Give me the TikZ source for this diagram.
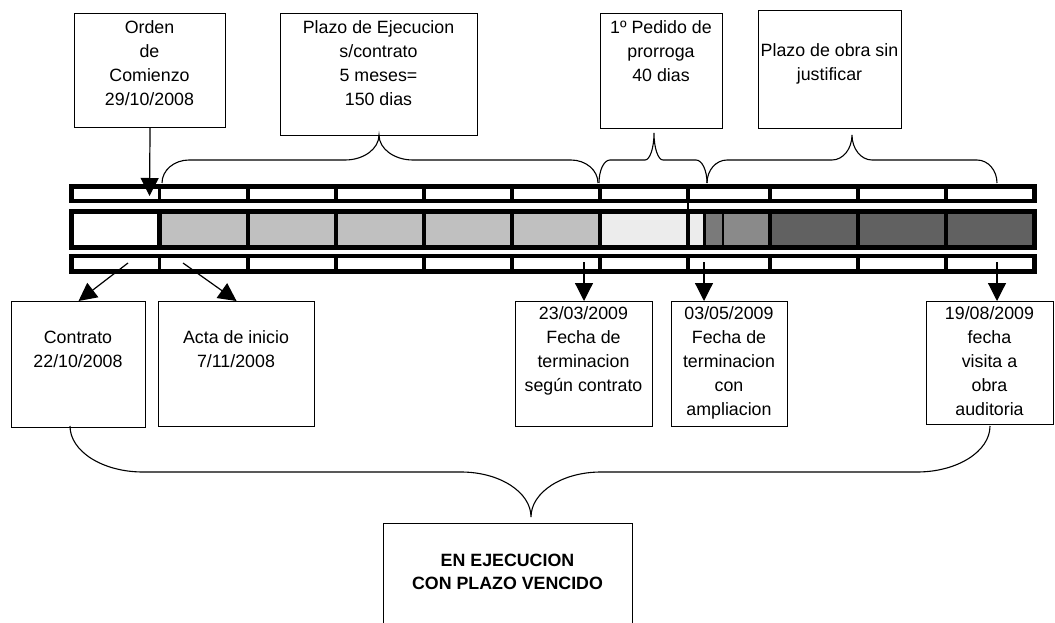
\documentclass[tikz,border=0pt]{standalone}
\usepackage{fontspec}
\setmainfont{Liberation Sans}
\usetikzlibrary{arrows.meta}
\definecolor{cellA}{HTML}{C0C0C0}
\definecolor{cellB}{HTML}{ECECEC}
\definecolor{cellC}{HTML}{7A7A7A}
\definecolor{cellD}{HTML}{8A8A8A}
\definecolor{cellE}{HTML}{616161}
% #1 x1, #2 x2, #3 xp, #4 yb, #5 ym, #6 yt, #7 corner r, #8 peak r2
\newcommand\mybrace[8]{%
  \draw[bracestyle] (#1,#4)
    .. controls (#1,{#4+0.552*(#5-#4)}) and ({#1+0.448*#7},#5) .. ({#1+#7},#5)
    -- ({#3-#8},#5)
    .. controls ({#3-0.448*#8},#5) and (#3,{#6+0.552*(#5-#6)}) .. (#3,#6)
    .. controls (#3,{#6+0.552*(#5-#6)}) and ({#3+0.448*#8},#5) .. ({#3+#8},#5)
    -- ({#2-#7},#5)
    .. controls ({#2-0.448*#7},#5) and (#2,{#4+0.552*(#5-#4)}) .. (#2,#4);}
\begin{document}
\begin{tikzpicture}[x=1pt,y=1pt,
  box/.style={draw, line width=1.1pt, inner sep=0pt, anchor=north west},
  lbl/.style={font=\fontsize{17.8}{24}\selectfont, align=center, inner sep=0pt, anchor=north},
  boldlbl/.style={lbl, font=\fontsize{17.8}{23}\selectfont\bfseries},
  arr/.style={line width=1.2pt, -{Triangle[length=18pt,width=18pt]}},
  bracestyle/.style={line width=1.1pt},
  bar/.style={line width=4.5pt},
  div/.style={line width=3.5pt},
  mdiv/.style={line width=4.5pt}]
\useasboundingbox (0,0) rectangle (1055,-623);

% ---------- top boxes ----------
\node[box, minimum width=151pt, minimum height=114pt] (orden) at (74,-13) {};
\node[lbl] (ordenT) at (149.5,-20.5) {Orden\\de\\Comienzo\\29/10/2008};
\node[box, minimum width=197pt, minimum height=122pt] (plazo) at (280,-13) {};
\node[lbl] (plazoT) at (378.5,-20.5) {Plazo de Ejecucion\\s/contrato\\5 meses=\\150 dias};
\node[box, minimum width=122pt, minimum height=115pt] (pedido) at (600,-13) {};
\node[lbl] (pedidoT) at (661,-20.5) {1º Pedido de\\prorroga\\40 dias};
\node[box, minimum width=143pt, minimum height=118pt] (obra) at (758,-10) {};
\node[lbl] (obraT) at (829.5,-43.5) {Plazo de obra sin\\justificar};

% ---------- timeline: middle row ----------
\fill[cellA] (159,-211) rectangle (600,-247.5);
\fill[cellB] (600,-211) rectangle (704,-247.5);
\fill[cellC] (704,-211) rectangle (722,-247.5);
\fill[cellD] (722,-211) rectangle (770,-247.5);
\fill[cellE] (770,-211) rectangle (1034.5,-247.5);
\draw[bar] (71.5,-211.3) rectangle (1034.5,-247.5);
\foreach \x in {159.5,248,336,424,512,600,688,770,858,946}
  \draw[mdiv] (\x,-211) -- (\x,-247.5);
\draw[line width=2.5pt] (704.5,-211) -- (704.5,-247.5);
\draw[line width=2pt] (723,-211) -- (723,-247.5);

% ---------- timeline: top row ----------
\draw[bar] (71.5,-186.5) rectangle (1034.5,-201);
\foreach \x in {159.5,248,336,424,512,600,688,770,858,946}
  \draw[div] (\x,-186.5) -- (\x,-201);
\draw[line width=2.5pt] (688,-201) -- (688,-211);

% ---------- timeline: bottom row ----------
\draw[bar] (71.5,-256) rectangle (1034.5,-271.3);
\foreach \x in {159.5,248,336,424,512,600,688,770,858,946}
  \draw[div] (\x,-256) -- (\x,-271.3);

% ---------- bottom boxes ----------
\node[box, minimum width=134pt, minimum height=126pt] (contrato) at (11,-301) {};
\node[lbl] (contratoT) at (78,-330.5) {Contrato\\22/10/2008};
\node[box, minimum width=156pt, minimum height=125pt] (acta) at (158,-301) {};
\node[lbl] (actaT) at (236,-330.5) {Acta de inicio\\7/11/2008};
\node[box, minimum width=137pt, minimum height=125pt] (f2303) at (515,-301) {};
\node[lbl] (f2303T) at (583.5,-306.5) {23/03/2009\\Fecha de\\terminacion\\según contrato};
\node[box, minimum width=116pt, minimum height=125pt] (f0305) at (671,-301) {};
\node[lbl] (f0305T) at (729,-306.5) {03/05/2009\\Fecha de\\terminacion\\con\\ampliacion};
\node[box, minimum width=127pt, minimum height=123pt] (f1908) at (926,-301) {};
\node[lbl] (f1908T) at (989.5,-306.5) {19/08/2009\\fecha\\visita a\\obra\\auditoria};

\node[box, minimum width=249pt, minimum height=120pt] (final) at (383,-523) {};
\node[boldlbl] (finalT) at (507.5,-553.5) {EN EJECUCION\\CON PLAZO VENCIDO};

% ---------- arrows ----------
\coordinate (ordenTip) at (149.5,-196);
\draw[arr] (orden.south) -- (ordenTip);
\coordinate (cA) at (128,-263);
\draw[arr] (cA) -- (contrato.north);
\coordinate (aA) at (183,-263);
\draw[arr] (aA) -- (acta.north);
\coordinate (fA) at (584,-262);
\draw[arr] (fA) -- (fA |- f2303.north);
\coordinate (gA) at (704,-262);
\draw[arr] (gA) -- (gA |- f0305.north);
\coordinate (hA) at (997,-262);
\draw[arr] (hA) -- (hA |- f1908.north);

% ---------- braces ----------
\mybrace{162}{598}{379}{-183}{-160}{-135}{27}{34}
\mybrace{599}{707}{654}{-183}{-160}{-133}{11}{9}
\mybrace{707}{997}{852}{-183}{-160}{-135}{20}{20}
\mybrace{70}{990}{531}{-426}{-472}{-517}{73}{70}
\end{tikzpicture}
\end{document}
